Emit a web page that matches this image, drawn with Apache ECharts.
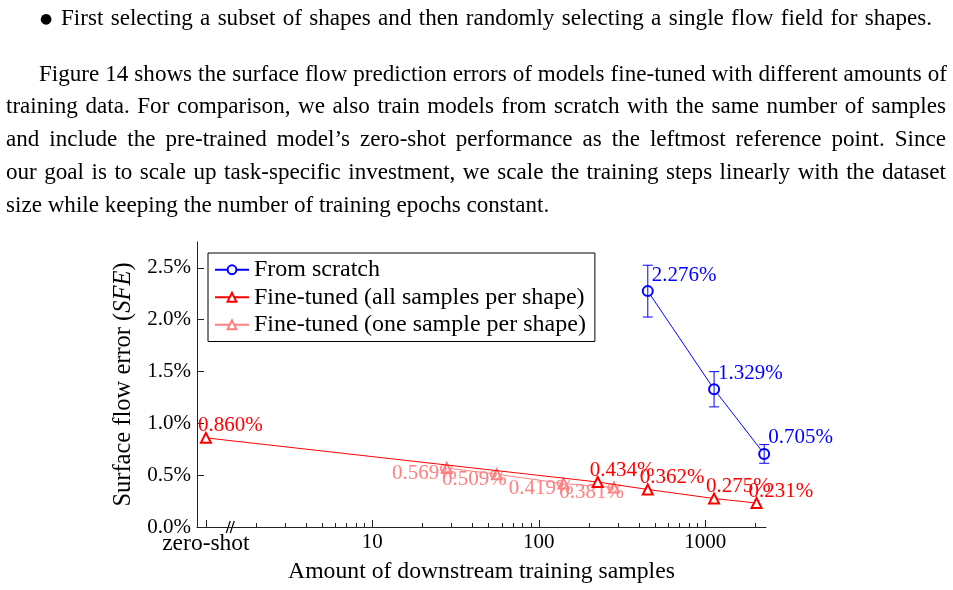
<!DOCTYPE html>
<html>
<head>
<meta charset="utf-8">
<script src="https://cdn.jsdelivr.net/npm/echarts@6/dist/echarts.min.js"></script>
<style>
body { margin: 0; background: #fff; }
#page { position: relative; width: 953px; height: 590px; overflow: hidden; }
.ln { position: absolute; font-family: "Liberation Serif", serif; font-size: 23.1px; line-height: 32px; color: #000; white-space: nowrap; }
.just { white-space: normal; text-align: justify; text-align-last: justify; }
.bul { position: absolute; font-family: "DejaVu Sans", sans-serif; font-size: 14px; line-height: 32px; color: #000; }
#chart { position: absolute; left: 0; top: 0; width: 953px; height: 590px; }
</style>
</head>
<body>
<div id="page">
  <div id="chart"></div>
  <div class="bul" style="left:40px;top:2px;">&#9679;</div>
  <div class="ln just" style="left:61px;top:1px;width:871px;">First selecting a subset of shapes and then randomly selecting a single flow field for shapes.</div>
  <div class="ln just" style="left:39px;top:57px;width:908px;">Figure 14 shows the surface flow prediction errors of models fine-tuned with different amounts of</div>
  <div class="ln just" style="left:6px;top:89px;width:940px;">training data. For comparison, we also train models from scratch with the same number of samples</div>
  <div class="ln just" style="left:6px;top:122px;width:940px;">and include the pre-trained model’s zero-shot performance as the leftmost reference point. Since</div>
  <div class="ln just" style="left:6px;top:155px;width:940px;">our goal is to scale up task-specific investment, we scale the training steps linearly with the dataset</div>
  <div class="ln" style="left:6px;top:188px;">size while keeping the number of training epochs constant.</div>
</div>
<script>
// values (errors in %)
var scratchX = [452, 1131, 2262];
var scratchY = [2.276, 1.329, 0.705];
var scratchErr = [0.25, 0.17, 0.09];

var allX = [1, 226, 452, 1131, 2036];
var allY = [0.860, 0.434, 0.362, 0.275, 0.231];

var oneX = [28, 56, 141, 283];
var oneY = [0.569, 0.509, 0.419, 0.381];

var majorTicks = [1, 10, 100, 1000];
var minorTicks = [2, 3, 4, 5, 6, 7, 8, 9, 20, 30, 40, 50, 60, 70, 80, 90, 200, 300, 400, 500, 600, 700, 800, 900, 2000];
var yTicks = [0, 0.5, 1, 1.5, 2, 2.5];

var BLUE = '#0000ff', RED = '#ff0000', PINK = '#ff8080';
var FONT = 'Liberation Serif';

var chart = echarts.init(document.getElementById('chart'));

function pairs(xs, ys) {
	return xs.map(function(x, i) { return [x, ys[i]]; });
}
function pctLabel(p) {
	return p.value[1].toFixed(3) + '%';
}

var option = {
	animation: false,
	textStyle: { fontFamily: FONT },
	grid: { left: 197, right: 187, top: 242, bottom: 63, outerBoundsMode: 'none' },
	legend: {
		orient: 'vertical',
		left: 208, top: 253,
		padding: [3, 9, 3, 6],
		itemGap: 0,
		itemWidth: 34, itemHeight: 11,
		backgroundColor: '#fff',
		borderColor: '#000', borderWidth: 1, borderRadius: 0,
		textStyle: { fontFamily: FONT, fontSize: 24, color: '#000', lineHeight: 27.5 },
		data: ['From scratch', 'Fine-tuned (all samples per shape)', 'Fine-tuned (one sample per shape)']
	},
	xAxis: [{
		type: 'log', logBase: 10, min: 0.884, max: 2320,
		name: 'Amount of downstream training samples',
		nameLocation: 'middle', nameGap: 33,
		nameTextStyle: { fontFamily: FONT, fontSize: 23.7, color: '#000' },
		axisLine: { lineStyle: { color: '#222', width: 1 } },
		axisTick: { inside: true, length: 7, customValues: majorTicks, lineStyle: { color: '#222' } },
		axisLabel: {
			customValues: majorTicks, margin: 5, fontSize: 21, color: '#000',
			formatter: function(v) { return v === 1 ? '{w|zero-shot}' : String(v); },
			rich: { w: { fontSize: 23.5, fontFamily: FONT, color: '#000' } }
		},
		splitLine: { show: false }
	}, {
		type: 'log', logBase: 10, min: 0.884, max: 2320, position: 'bottom',
		axisLine: { show: false },
		axisTick: { inside: true, length: 4, customValues: minorTicks, lineStyle: { color: '#222' } },
		axisLabel: { show: false },
		splitLine: { show: false }
	}],
	yAxis: {
		type: 'value', min: 0, max: 2.75,
		name: 'Surface flow error ({i|SFE})',
		nameLocation: 'middle', nameGap: 58, nameRotate: 90,
		nameTextStyle: {
			fontFamily: FONT, fontSize: 24.5, color: '#000',
			rich: { i: { fontFamily: FONT, fontSize: 24.5, fontStyle: 'italic', color: '#000' } }
		},
		axisLine: { show: true, lineStyle: { color: '#222', width: 1 } },
		axisTick: { show: true, inside: true, length: 7, customValues: yTicks, lineStyle: { color: '#222' } },
		axisLabel: {
			customValues: yTicks, margin: 6, fontSize: 21, color: '#000',
			formatter: function(v) { return v.toFixed(1) + '%'; }
		},
		splitLine: { show: false }
	},
	series: [{
		name: 'Fine-tuned (one sample per shape)',
		type: 'line',
		data: pairs(oneX, oneY),
		symbol: 'emptyTriangle', symbolSize: 10,
		itemStyle: { color: PINK, borderWidth: 1 },
		lineStyle: { color: PINK, width: 1 },
		label: { show: true, position: 'left', distance: 0, offset: [16, 5], formatter: pctLabel, color: PINK, fontSize: 21, fontFamily: FONT },
		z: 2
	}, {
		name: 'Fine-tuned (all samples per shape)',
		type: 'line',
		data: pairs(allX, allY),
		symbol: 'emptyTriangle', symbolSize: 10,
		itemStyle: { color: RED, borderWidth: 1 },
		lineStyle: { color: RED, width: 1 },
		label: { show: true, position: 'right', distance: 0, offset: [-14, -12], formatter: pctLabel, color: RED, fontSize: 21, fontFamily: FONT },
		z: 3
	}, {
		name: 'From scratch',
		type: 'line',
		data: pairs(scratchX, scratchY),
		symbol: 'emptyCircle', symbolSize: 10,
		itemStyle: { color: BLUE, borderWidth: 1 },
		lineStyle: { color: BLUE, width: 1 },
		label: { show: true, position: 'right', distance: 0, offset: [-2, -16], formatter: pctLabel, color: BLUE, fontSize: 21, fontFamily: FONT },
		z: 4
	}, {
		name: 'scratch error',
		type: 'custom',
		data: scratchX.map(function(x, i) { return [x, scratchY[i] - scratchErr[i], scratchY[i] + scratchErr[i]]; }),
		encode: { x: 0, y: [1, 2] },
		renderItem: function(params, api) {
			var x = api.value(0);
			var lo = api.coord([x, api.value(1)]);
			var hi = api.coord([x, api.value(2)]);
			var w = 5;
			var st = { stroke: BLUE, lineWidth: 1 };
			return {
				type: 'group',
				children: [
					{ type: 'line', shape: { x1: lo[0], y1: lo[1], x2: hi[0], y2: hi[1] }, style: st },
					{ type: 'line', shape: { x1: lo[0] - w, y1: lo[1], x2: lo[0] + w, y2: lo[1] }, style: st },
					{ type: 'line', shape: { x1: hi[0] - w, y1: hi[1], x2: hi[0] + w, y2: hi[1] }, style: st }
				]
			};
		},
		z: 5
	}]
};

chart.setOption(option);

// axis break mark between zero-shot and the real sample counts
var bp = chart.convertToPixel({ xAxisIndex: 0, yAxisIndex: 0 }, [1.42, 0]);
chart.setOption({
	graphic: [{
		type: 'group', silent: true,
		children: [
			{ type: 'line', shape: { x1: bp[0] - 5, y1: bp[1] + 6, x2: bp[0] - 1, y2: bp[1] - 6 }, style: { stroke: '#000', lineWidth: 1.2 } },
			{ type: 'line', shape: { x1: bp[0] - 1, y1: bp[1] + 6, x2: bp[0] + 3, y2: bp[1] - 6 }, style: { stroke: '#000', lineWidth: 1.2 } }
		]
	}]
});
</script>
</body>
</html>
